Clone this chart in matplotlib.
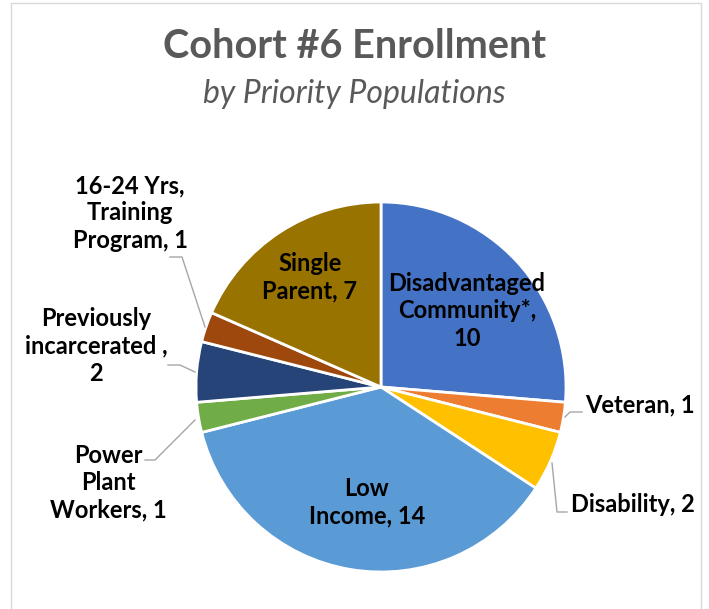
import matplotlib.pyplot as plt
from matplotlib.patches import Rectangle

plt.rcParams['font.family'] = ['Lato', 'DejaVu Sans']

# data, clockwise from 12 o'clock
labels = ['Disadvantaged\nCommunity*,\n10', 'Veteran, 1', 'Disability, 2', 'Low\nIncome, 14',
          'Power\nPlant\nWorkers, 1', 'Previously\nincarcerated ,\n2',
          '16-24 Yrs,\nTraining\nProgram, 1', 'Single\nParent, 7']
values = [10, 1, 2, 14, 1, 2, 1, 7]
colors = ['#4472C4', '#ED7D31', '#FFC000', '#5B9BD5', '#70AD47', '#264478', '#9E480E', '#997300']

W, H = 709, 609
fig = plt.figure(figsize=(W / 100, H / 100), dpi=100)

# light frame around the chart area
fig.patches.append(Rectangle((11 / W, -0.05), 690 / W, 1.05 - 3 / H, transform=fig.transFigure,
                             fill=False, edgecolor='#D9D9D9', linewidth=1))

cx, cy, r = 381, 387, 185
ax = fig.add_axes([(cx - r) / W, (H - cy - r) / H, 2 * r / W, 2 * r / H])
ax.pie(values, colors=colors, startangle=90, counterclock=False, radius=1,
       wedgeprops=dict(edgecolor='white', linewidth=2))
ax.set_xlim(-1, 1)
ax.set_ylim(-1, 1)
ax.set_aspect('equal')
ax.axis('off')


def px(x, y):
    return (x - cx) / r, (cy - y) / r


# label positions (pixel centers) and leader lines
label_pos = [(467, 311), (640, 405), (633, 504), (367, 502),
             (108, 483), (96, 346), (130, 213), (310, 277)]
leaders = {
    1: [(565, 417), (570, 412), (582, 412)],
    2: [(552, 463), (557, 512), (567, 512)],
    4: [(195, 420), (155, 460), (145, 460)],
    5: [(195, 372), (180, 365), (168, 365)],
    6: [(205, 327), (182, 257), (170, 257)],
}

for i, lab in enumerate(labels):
    x, y = px(*label_pos[i])
    ax.text(x, y, lab, ha='center', va='center', fontsize=17, fontweight='bold',
            color='black', linespacing=1.22, clip_on=False)
    if i in leaders:
        pts = [px(*p) for p in leaders[i]]
        ax.plot([p[0] for p in pts], [p[1] for p in pts], color='#A6A6A6', linewidth=1,
                clip_on=False)

fig.text(0.5, 1 - 47 / H, 'Cohort #6 Enrollment', ha='center', va='center',
         fontsize=28.5, fontweight='bold', color='#595959')
fig.text(0.5, 1 - 94 / H, 'by Priority Populations', ha='center', va='center',
         fontsize=23, fontstyle='italic', color='#595959')

fig.savefig('out.png', dpi=100)
